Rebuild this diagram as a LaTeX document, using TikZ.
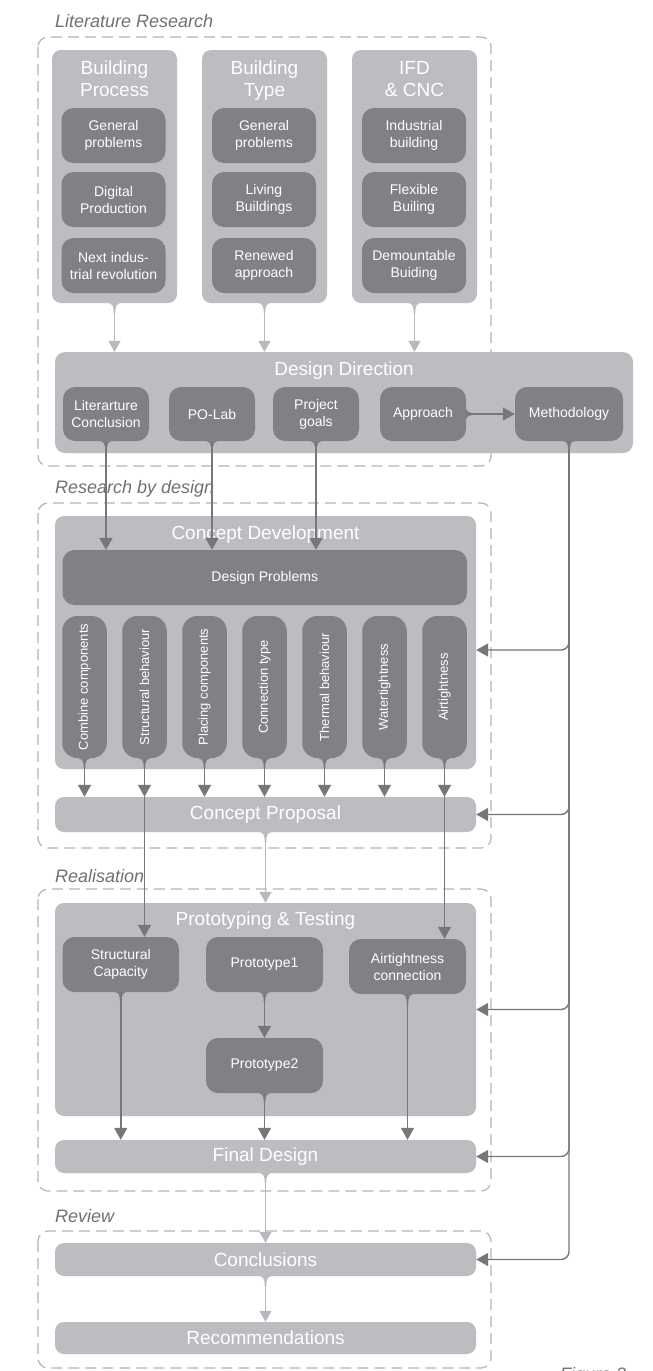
\documentclass[tikz,border=0pt]{standalone}
\usepackage{fontspec}
\setmainfont{Liberation Sans}
\usetikzlibrary{arrows.meta}

\definecolor{boxlight}{HTML}{BCBDC0}
\definecolor{boxdark}{HTML}{808185}
\definecolor{dashgray}{HTML}{B4B5B7}
\definecolor{linedark}{HTML}{76777B}
\definecolor{linelight}{HTML}{B8B9BC}
\definecolor{labelgray}{HTML}{707174}

% concave tab where a connector leaves a box downwards / to the right
\newcommand\tabdown[3]{\fill[#2,shift={(#1)}] (-#3,-0.5) .. controls (-2,-0.5) and (-0.8,2.5) .. (-0.8,10) -- (0.8,10) .. controls (0.8,2.5) and (2,-0.5) .. (#3,-0.5) -- cycle;}
\newcommand\tabright[2]{\fill[#2,shift={(#1)}] (-0.5,-9) .. controls (-0.5,-2) and (2.5,-0.8) .. (10,-0.8) -- (10,0.8) .. controls (2.5,0.8) and (-0.5,2) .. (-0.5,9) -- cycle;}

\tikzset{
  frame/.style={draw=dashgray, line width=1.2pt, dash pattern=on 11pt off 6pt, rounded corners=10pt},
  phase/.style={anchor=base west, inner sep=0pt, text=labelgray, font=\fontsize{18}{22}\selectfont\itshape},
  panel/.style={fill=boxlight, rounded corners=9pt, inner sep=0pt},
  bar/.style={panel, minimum width=421, text=white, font=\fontsize{19}{22}\selectfont},
  title/.style={inner sep=0pt, text=white, align=center, font=\fontsize{19}{22}\selectfont},
  darkbox/.style={fill=boxdark, rounded corners=12pt, inner sep=0pt, text=white, align=center,
    font=\fontsize{14}{17}\selectfont},
  vbox/.style={darkbox, rounded corners=15pt, minimum width=44.5, minimum height=142,
    font=\fontsize{13}{15}\selectfont},
  darrow/.style={draw=linedark, line width=1.5pt, -{Triangle[width=13pt,length=12pt]}},
  larrow/.style={draw=linelight, line width=1.5pt, -{Triangle[width=12pt,length=11pt]}},
  feedback/.style={draw=linedark, line width=1.4pt, rounded corners=8pt, -{Triangle[width=13pt,length=12pt]}}
}

\begin{document}
\begin{tikzpicture}[x=1pt,y=-1pt]
\useasboundingbox (0,0) rectangle (653,1371);
\fill[white] (0,0) rectangle (653,1371);

% ---- phase frames and their labels
\draw[frame] (38,37) rectangle (491,466);
\draw[frame] (38,503) rectangle (491,848);
\draw[frame] (38,889) rectangle (491,1191);
\draw[frame] (38,1231) rectangle (491,1368);
\node[phase] (ph1) at (55,27) {Literature Research};
\node[phase] (ph2) at (55,493) {Research by design};
\node[phase] (ph3) at (55,882) {Realisation};
\node[phase] (ph4) at (55,1222) {Review};
\node[phase] (fig) at (560,1380) {Figure 2};

% ---- literature columns
\node[panel, minimum width=125, minimum height=253] (col1) at (114.5,176.5) {};
\node[panel, minimum width=125, minimum height=253] (col2) at (264.5,176.5) {};
\node[panel, minimum width=125, minimum height=253] (col3) at (414.5,176.5) {};
\node[title, anchor=north] (col1t) at (114.5,61) {Building\\Process};
\node[title, anchor=north] (col2t) at (264.5,61) {Building\\Type};
\node[title, anchor=north] (col3t) at (414.5,61) {IFD\\\& CNC};

\node[darkbox, minimum width=104, minimum height=55] (a1) at (113.5,135.5) {General\\problems};
\node[darkbox, minimum width=104, minimum height=55] (a2) at (113.5,199.5) {Digital\\Production};
\node[darkbox, minimum width=104, minimum height=55] (a3) at (113.5,265.5) {Next indus-\\trial revolution};
\node[darkbox, minimum width=104, minimum height=55] (b1) at (264,135.5) {General\\problems};
\node[darkbox, minimum width=104, minimum height=55] (b2) at (264,199.5) {Living\\Buildings};
\node[darkbox, minimum width=104, minimum height=55] (b3) at (264,265.5) {Renewed\\approach};
\node[darkbox, minimum width=104, minimum height=55] (c1) at (414,135.5) {Industrial\\building};
\node[darkbox, minimum width=104, minimum height=55] (c2) at (414,199.5) {Flexible\\Builing};
\node[darkbox, minimum width=104, minimum height=55] (c3) at (414,265.5) {Demountable\\Buiding};

% ---- design direction
\node[panel, rounded corners=10pt, minimum width=578, minimum height=101] (dd) at (344,402.5) {};
\node[title, anchor=base] (ddt) at (344,375) {Design Direction};
\node[darkbox, minimum width=86, minimum height=54] (litc) at (106,414) {Literarture\\Conclusion};
\node[darkbox, minimum width=86, minimum height=54] (polab) at (212,414) {PO-Lab};
\node[darkbox, minimum width=86, minimum height=54] (goals) at (316,414) {Project\\goals};
\node[darkbox, minimum width=86, minimum height=54] (appr) at (423,414) {Approach};
\node[darkbox, minimum width=108, minimum height=54] (meth) at (569,414) {Methodology};

% ---- concept development
\node[panel, minimum width=421, minimum height=253] (cdev) at (265.5,642.5) {};
\node[title, anchor=base] (cdevt) at (265.5,539) {Concept Development};
\node[darkbox, minimum width=404.5, minimum height=55] (dp) at (264.75,577.5) {Design Problems};
\node[vbox] (v1) at (84.5,687) {\rotatebox{90}{Combine components}};
\node[vbox] (v2) at (144.5,687) {\rotatebox{90}{Structural behaviour}};
\node[vbox] (v3) at (204.5,687) {\rotatebox{90}{Placing components}};
\node[vbox] (v4) at (264.5,687) {\rotatebox{90}{Connection type}};
\node[vbox] (v5) at (324.5,687) {\rotatebox{90}{Thermal behaviour}};
\node[vbox] (v6) at (384.5,687) {\rotatebox{90}{Watertightness}};
\node[vbox] (v7) at (444.5,687) {\rotatebox{90}{Airtightness}};
\node[bar, minimum height=35] (cprop) at (265.5,814.5) {Concept Proposal};

% ---- prototyping and testing
\node[panel, minimum width=421, minimum height=213] (pt) at (265.5,1009.5) {};
\node[title, anchor=base] (ptt) at (265.5,925) {Prototyping \& Testing};
\node[darkbox, minimum width=116.5, minimum height=55] (sc) at (120.75,964.5) {Structural\\Capacity};
\node[darkbox, minimum width=117, minimum height=55] (p1) at (264.5,964.5) {Prototype1};
\node[darkbox, minimum width=117, minimum height=55] (ac) at (407.5,966.5) {Airtightness\\connection};
\node[darkbox, minimum width=117, minimum height=55] (p2) at (264.5,1065.5) {Prototype2};
\node[bar, minimum height=33] (fd) at (265.5,1156.5) {Final Design};

% ---- review
\node[bar, minimum height=33] (concl) at (265.5,1259.5) {Conclusions};
\node[bar, minimum height=32] (rec) at (265.5,1338) {Recommendations};

% ---- light connectors between stages
\foreach \c in {col1,col2,col3} {
  \tabdown{\c.south}{boxlight}{9}
  \draw[larrow] (\c.south) -- (\c.south |- dd.north);
}
\tabdown{cprop.south}{boxlight}{9}
\draw[larrow] (cprop.south) -- (pt.north);
\tabdown{fd.south}{boxlight}{9}
\draw[larrow] (fd.south) -- (concl.north);
\tabdown{concl.south}{boxlight}{9}
\draw[larrow] (concl.south) -- (rec.north);

% ---- dark connectors
\foreach \c in {litc,polab,goals} {
  \tabdown{\c.south}{boxdark}{9}
  \draw[darrow] (\c.south) -- (\c.south |- dp.north);
}
\tabright{appr.east}{boxdark}
\draw[darrow] (appr.east) -- (meth.west);
\foreach \c in {v1,v2,v3,v4,v5,v6,v7} {
  \tabdown{\c.south}{boxdark}{10}
  \draw[darrow] (\c.south) -- (\c.south |- cprop.north);
}
\draw[darrow] (v2.south) -- (v2.south |- sc.north);
\draw[darrow] (v7.south) -- (v7.south |- ac.north);
\foreach \c in {sc,p2,ac} {
  \tabdown{\c.south}{boxdark}{9}
  \draw[darrow] (\c.south) -- (\c.south |- fd.north);
}
\tabdown{p1.south}{boxdark}{9}
\draw[darrow] (p1.south) -- (p2.north);

% ---- methodology feeds every later stage
\tabdown{meth.south}{boxdark}{9}
\draw[feedback] (meth.south) |- ([yshift=-7.5pt]cdev.east);
\draw[feedback] (meth.south) |- (cprop.east);
\draw[feedback] (meth.south) |- (pt.east);
\draw[feedback] (meth.south) |- (fd.east);
\draw[feedback] (meth.south) |- (concl.east);
\end{tikzpicture}
\end{document}
